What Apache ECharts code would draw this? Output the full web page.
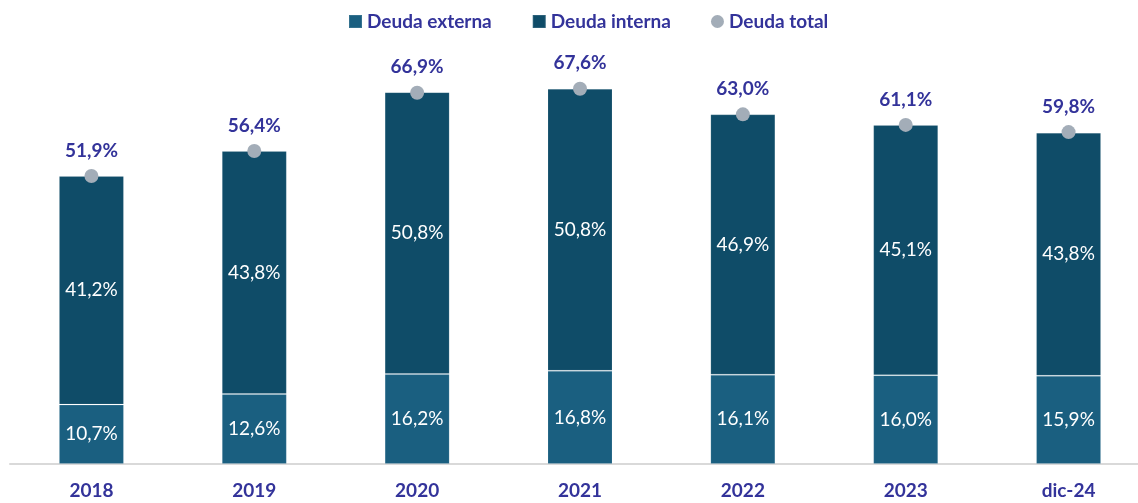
<!DOCTYPE html>
<html lang="es">
<head>
    <meta charset="UTF-8">
    <title>Deuda</title>
    <script src="https://cdn.jsdelivr.net/npm/echarts@6.0.0/dist/echarts.min.js"></script>
    <style>
        html, body { margin: 0; padding: 0; background: #fff; }
        #viz { width: 1138px; height: 503px; }
    </style>
</head>
<body>
    <div id="viz"></div>
    <script>
        const categories = ['2018', '2019', '2020', '2021', '2022', '2023', 'dic-24'];
        const externa = [10.7, 12.6, 16.2, 16.8, 16.1, 16.0, 15.9];
        const interna = [41.2, 43.8, 50.8, 50.8, 46.9, 45.1, 43.8];
        const total = [51.9, 56.4, 66.9, 67.6, 63.0, 61.1, 59.8];

        const fontFamily = 'Lato, "Open Sans", sans-serif';
        const navy = '#33339a';
        const pct = p => p.value.toFixed(1).replace('.', ',') + '%';

        const chart = echarts.init(document.getElementById('viz'), null, { renderer: 'canvas' });

        const option = {
            animation: false,
            textStyle: { fontFamily },
            legend: {
                top: 7,
                left: 343,
                itemGap: 40,
                itemWidth: 13,
                itemHeight: 13,
                textStyle: { color: navy, fontWeight: 'bold', fontSize: 19, fontFamily },
                data: [
                    { name: 'Deuda externa', icon: 'rect' },
                    { name: 'Deuda interna', icon: 'rect' },
                    { name: 'Deuda total', icon: 'circle' }
                ]
            },
            // the last column runs a little past the right edge in the original
            grid: { left: 10, width: 1140, top: 20, bottom: 39, outerBoundsMode: 'none' },
            xAxis: {
                type: 'category',
                data: categories,
                axisTick: { show: false },
                axisLine: { lineStyle: { color: '#d9d9d9', width: 2 } },
                axisLabel: { color: navy, fontWeight: 'bold', fontSize: 19, margin: 17, fontFamily }
            },
            yAxis: {
                type: 'value',
                min: 0,
                max: 80,
                show: false
            },
            series: [
                {
                    name: 'Deuda externa',
                    type: 'bar',
                    stack: 'deuda',
                    barWidth: 65,
                    data: externa,
                    itemStyle: { color: '#1a5f80', borderColor: 'rgba(255,255,255,0.12)', borderWidth: 1 },
                    label: { show: true, position: 'inside', color: '#fff', fontSize: 19, formatter: pct, fontFamily }
                },
                {
                    name: 'Deuda interna',
                    type: 'bar',
                    stack: 'deuda',
                    barWidth: 65,
                    data: interna,
                    itemStyle: { color: '#0f4c68', borderColor: 'rgba(255,255,255,0.12)', borderWidth: 1 },
                    label: { show: true, position: 'inside', color: '#fff', fontSize: 19, formatter: pct, fontFamily }
                },
                {
                    name: 'Deuda total',
                    type: 'scatter',
                    data: total,
                    symbol: 'circle',
                    symbolSize: 14,
                    z: 5,
                    itemStyle: { color: '#a3adb8', opacity: 1 },
                    label: {
                        show: true,
                        position: 'top',
                        distance: 9,
                        color: navy,
                        fontWeight: 'bold',
                        fontSize: 19,
                        formatter: pct,
                        fontFamily
                    }
                }
            ]
        };

        chart.setOption(option);
        window.onresize = () => chart.resize();
    </script>
</body>
</html>
